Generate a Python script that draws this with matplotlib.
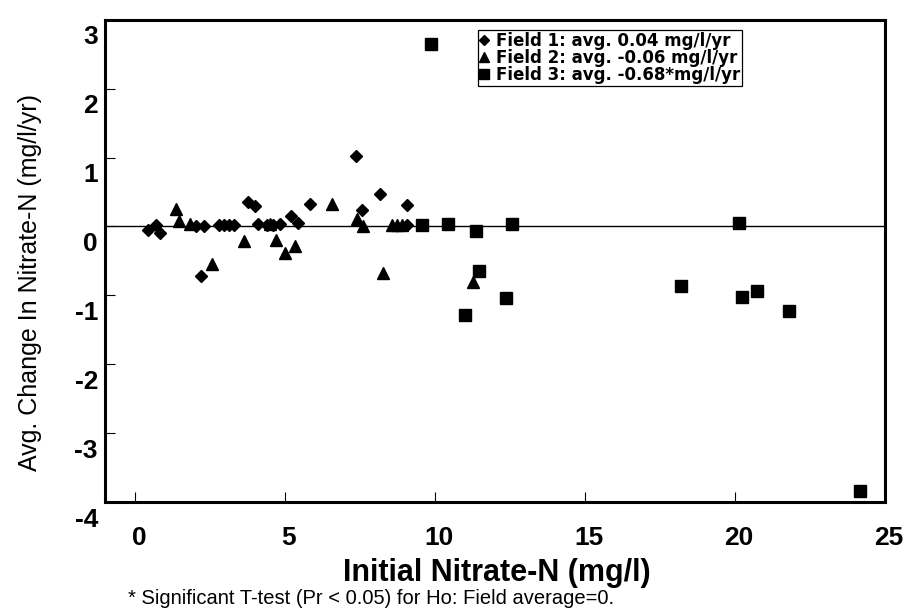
"""Avg. change in nitrate-N vs. initial nitrate-N for three fields."""

import matplotlib

matplotlib.use("Agg")
import matplotlib.pyplot as plt
import matplotlib.transforms as mtransforms
from matplotlib.lines import Line2D


FIELD1_X = [0.44, 0.69, 0.83, 2.05, 2.3, 2.19, 2.8, 2.97, 3.13, 3.3, 3.78, 4.02,
            4.11, 4.4, 4.6, 4.83, 5.2, 5.44, 5.85, 7.36, 7.56, 8.19, 9.06, 9.08]
FIELD1_Y = [-0.05, 0.02, -0.10, 0.0, 0.0, -0.72, 0.02, 0.02, 0.02, 0.02, 0.35, 0.29,
            0.03, 0.02, 0.02, 0.03, 0.15, 0.05, 0.33, 1.02, 0.24, 0.47, 0.31, 0.02]

FIELD2_X = [1.36, 1.47, 1.85, 2.56, 3.63, 4.5, 4.69, 5.0, 5.33, 6.58, 7.42, 7.6,
            8.28, 8.58, 8.74, 8.91, 11.28]
FIELD2_Y = [0.25, 0.08, 0.04, -0.54, -0.21, 0.03, -0.19, -0.39, -0.28, 0.32, 0.11, 0.0,
            -0.67, 0.02, 0.02, 0.02, -0.80]

FIELD3_X = [9.87, 9.58, 10.44, 11.36, 12.58, 11.49, 11.0, 12.38, 18.2, 20.14, 20.26,
            20.74, 21.82, 24.19]
FIELD3_Y = [2.65, 0.02, 0.03, -0.07, 0.03, -0.64, -1.28, -1.04, -0.87, 0.05, -1.02,
            -0.94, -1.23, -3.83]

LEGEND_LABELS = [
    "Field 1: avg. 0.04 mg/l/yr",
    "Field 2: avg. -0.06 mg/l/yr",
    "Field 3: avg. -0.68*mg/l/yr",
]
X_TICKS = [0, 5, 10, 15, 20, 25]
Y_TICKS = [3, 2, 1, 0, -1, -2, -3, -4]


def main() -> None:
    plt.rcParams["font.family"] = ["Liberation Sans", "DejaVu Sans"]
    fig = plt.figure(figsize=(9.12, 6.14), dpi=100)
    ax = fig.add_axes([0.115, 0.182, 0.855, 0.786])

    ax.axhline(0, color="black", lw=1.0, zorder=1)
    ax.plot(FIELD1_X, FIELD1_Y, "D", ms=6.0, color="black", zorder=3)
    ax.plot(FIELD2_X, FIELD2_Y, "^", ms=8.5, color="black", zorder=3)
    ax.plot(FIELD3_X, FIELD3_Y, "s", ms=9.0, color="black", zorder=3)

    ax.set_xlim(-1, 25)
    ax.set_ylim(-4, 3)
    ax.set_xticks(X_TICKS)
    ax.set_yticks(Y_TICKS)
    ax.set_xticklabels([str(t) for t in X_TICKS], weight="bold", fontsize=19)
    ax.set_yticklabels([str(t) for t in Y_TICKS], weight="bold", fontsize=19)
    ax.tick_params(axis="both", direction="in", length=7, width=0.8)
    ax.tick_params(axis="x", pad=17)
    ax.tick_params(axis="y", pad=5)

    # labels in the scan sit a bit off their ticks
    down = mtransforms.ScaledTranslation(0, -0.15, fig.dpi_scale_trans)
    for lab in ax.get_yticklabels():
        lab.set_transform(lab.get_transform() + down)
    right = mtransforms.ScaledTranslation(0.04, 0, fig.dpi_scale_trans)
    for lab in ax.get_xticklabels():
        lab.set_transform(lab.get_transform() + right)

    for spine in ax.spines.values():
        spine.set_linewidth(2.2)

    ax.set_xlabel("Initial Nitrate-N (mg/l)", weight="bold", fontsize=22)
    ax.xaxis.set_label_coords(0.503, -0.115)
    ax.set_ylabel("Avg. Change In Nitrate-N (mg/l/yr)", fontsize=18)
    ax.yaxis.set_label_coords(-0.08, 0.456)

    handles = [
        Line2D([], [], ls="none", marker="D", ms=5, color="black"),
        Line2D([], [], ls="none", marker="^", ms=7, color="black"),
        Line2D([], [], ls="none", marker="s", ms=7, color="black"),
    ]
    leg = ax.legend(
        handles,
        LEGEND_LABELS,
        loc="upper left",
        bbox_to_anchor=(0.478, 0.978),
        prop={"family": "DejaVu Sans", "weight": "bold", "size": 12},
        fancybox=False,
        framealpha=1,
        edgecolor="black",
        handlelength=0.6,
        handletextpad=0.4,
        borderpad=0.1,
        labelspacing=-0.05,
        borderaxespad=0,
    )
    leg.get_frame().set_linewidth(0.9)

    fig.text(128 / 912, 1 - 598 / 614, "* Significant T-test (Pr < 0.05) for Ho: Field average=0.",
             fontsize=14.5, va="center", ha="left")

    fig.savefig("out.png", dpi=100)
    plt.close(fig)


if __name__ == "__main__":
    main()
